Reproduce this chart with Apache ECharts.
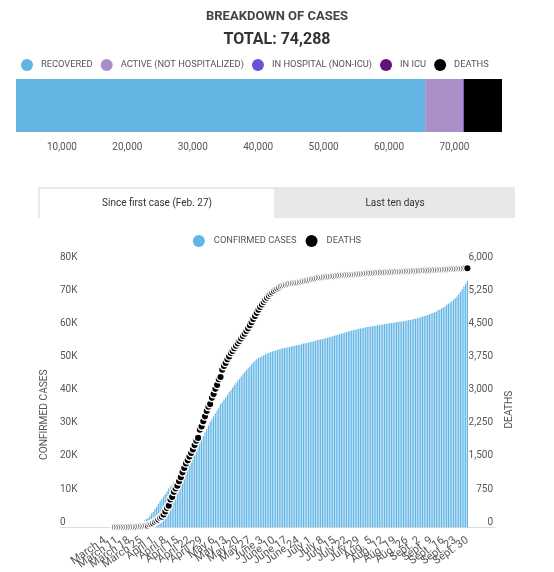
<!DOCTYPE html>
<html>
<head>
<meta charset="utf-8">
<script src="https://cdn.jsdelivr.net/npm/echarts@6/dist/echarts.min.js"></script>
<style>
html,body{margin:0;padding:0;background:#fff;}
#chart{width:554px;height:572px;}
</style>
</head>
<body>
<div id="chart"></div>
<script>
// ---------- DATA ----------
const breakdownNames = ['RECOVERED', 'ACTIVE (NOT HOSPITALIZED)', 'IN HOSPITAL (NON-ICU)', 'IN ICU', 'DEATHS'];
const breakdownValues = [62550, 5700, 170, 35, 5833];
const breakdownTicks = [10000, 20000, 30000, 40000, 50000, 60000, 70000];

// daily cumulative confirmed cases, Feb. 27 (index 0) to Sept. 30 (index 216)
const casesValues = [
  1,1,1,1,1,1,1,2,2,2,
  3,4,4,8,13,17,24,39,50,74,
  94,121,139,181,221,628,1013,1339,1629,2021,
  2498,2840,3430,4162,4611,5518,6101,6997,7944,8580,
  9340,10031,10912,11677,12292,12846,13557,14248,14860,15857,
  16798,17521,17950,19319,20126,20965,21838,22616,23267,24107,
  24982,25757,26594,27538,28648,29656,30686,31865,32623,33417,
  34327,35238,36150,37133,37721,38469,39225,39948,40724,41420,
  42183,42920,43627,44197,44775,45495,46141,46838,47411,47984,
  48598,49139,49702,50232,50651,51059,51354,51593,51884,52143,
  52398,52624,52849,53047,53185,53341,53485,53666,53824,53952,
  54054,54146,54263,54383,54550,54674,54766,54835,54937,55079,
  55198,55390,55524,55593,55682,55864,55937,56079,56216,56407,
  56521,56621,56730,56859,57001,57142,57300,57466,57616,57796,
  57938,58080,58243,58414,58545,58728,58880,59073,59203,59312,
  59458,59599,59699,59845,59945,60056,60162,60262,60367,60456,
  60542,60616,60718,60813,60917,61004,61085,61162,61254,61355,
  61440,61523,61613,61680,61741,61815,61901,61992,62075,62150,
  62246,62344,62437,62561,62667,62783,62900,63013,63161,63313,
  63511,63713,63876,64056,64256,64448,64650,64860,65110,65417,
  65706,66000,66292,66578,67080,67387,67787,68128,68617,69088,
  69570,70307,70994,71812,72651,73450,74288
];

// cumulative deaths, starting at day index 12 (March 10)
const deathsStart = 12;
const deathsValues = [
  0,0,0,0,0,1,1,1,
  4,4,5,6,8,10,18,22,25,31,
  33,36,61,75,94,121,150,175,216,241,
  289,360,435,487,630,688,802,877,939,1041,
  1134,1243,1340,1446,1515,1599,1682,1761,1859,1958,
  2022,2205,2280,2398,2510,2631,2725,2786,2928,3013,
  3131,3220,3351,3401,3562,3647,3718,3800,3865,3940,
  3990,4050,4105,4160,4215,4270,4325,4380,4440,4500,
  4570,4640,4710,4780,4850,4920,4985,5040,5095,5145,
  5190,5235,5275,5310,5345,5375,5400,5425,5448,5462,
  5475,5485,5495,5505,5512,5518,5524,5530,5538,5545,
  5555,5565,5573,5582,5590,5600,5608,5616,5624,5632,
  5641,5647,5650,5657,5661,5664,5669,5673,5675,5680,
  5684,5687,5691,5694,5698,5700,5705,5707,5711,5713,
  5717,5719,5723,5725,5729,5731,5734,5738,5740,5743,
  5745,5748,5750,5752,5755,5756,5759,5760,5762,5765,
  5766,5768,5771,5772,5774,5777,5778,5780,5781,5784,
  5785,5787,5788,5791,5792,5794,5795,5798,5799,5801,
  5803,5805,5806,5809,5810,5812,5814,5817,5818,5820,
  5822,5825,5826,5828,5830,5833,5834,5836,5839,5840,
  5842,5845,5847,5850,5853,5856,5858
];

// weekly tick labels (first at day index 6 = March 4)
const tickStart = 6;
const tickLabels = ['March 4','March 11','March 18','March 25','April 1','April 8','April 15','April 22','April 29',
  'May 6','May 13','May 20','May 27','June 3','June 10','June 17','June 24','July 1','July 8','July 15','July 22','July 29',
  'Aug. 5','Aug. 12','Aug. 19','Aug. 26','Sept. 2','Sept. 9','Sept. 16','Sept. 23','Sept. 30'];

// ---------- STYLES ----------
const breakdownColors = ['#62b5e2', '#a98fc8', '#6a52d8', '#62107a', '#000000'];
const CASE_COLOR = '#62b5e5';
const FONT = 'Roboto';
const TXT = '#555';

function fmtNum(v){ return String(v).replace(/\B(?=(\d{3})+(?!\d))/g, ','); }

const total = breakdownValues.reduce((a,b)=>a+b,0);
const X_MIN = -20, X_MAX = 232;
const tickValues = tickLabels.map((_, i) => tickStart + 7*i);
// axis ends carry empty labels so that ECharts' min/max label pruning never removes a real date
const labelValues = [X_MIN].concat(tickValues, [X_MAX]);

const casesPairs = casesValues.map((v,i)=>[i, v]);
const deathsPairs = deathsValues.map((v,i)=>[deathsStart + i, v]);

const chart = echarts.init(document.getElementById('chart'));

const topSeries = breakdownNames.map((n, i) => ({
  name: n, type: 'bar', stack: 'total', xAxisIndex: 0, yAxisIndex: 0,
  barWidth: 53, data: [breakdownValues[i]],
  itemStyle: { color: breakdownColors[i] }, silent: true
}));

function dateLabel(v){
  const k = (v - tickStart) / 7;
  return (Number.isInteger(k) && tickLabels[k]) ? tickLabels[k] : '';
}

chart.setOption({
  animation: false,
  textStyle: { fontFamily: FONT },
  title: [
    { text: 'BREAKDOWN OF CASES', left: 'center', top: 10, padding: 0,
      textStyle: { fontFamily: FONT, fontSize: 13, fontWeight: 'bold', color: '#444' } },
    { text: 'TOTAL: ' + fmtNum(total), left: 'center', top: 32, padding: 0,
      textStyle: { fontFamily: FONT, fontSize: 16, fontWeight: 'bold', color: '#333' } }
  ],
  legend: [
    { data: breakdownNames, left: 21, top: 59, padding: 0, icon: 'circle', itemWidth: 12, itemHeight: 12, itemGap: 8,
      textStyle: { fontFamily: FONT, fontSize: 9.3, color: TXT, padding: [0,0,0,3] }, selectedMode: false },
    { data: ['CONFIRMED CASES', 'DEATHS'], left: 'center', top: 235, padding: 0, icon: 'circle', itemWidth: 12, itemHeight: 12, itemGap: 9,
      itemStyle: { borderWidth: 0 },
      textStyle: { fontFamily: FONT, fontSize: 9.3, color: TXT, padding: [0,0,0,4] }, selectedMode: false }
  ],
  graphic: [
    { type: 'rect', shape: { x: 38, y: 187, width: 477, height: 31 }, style: { fill: '#e8e8e8' }, silent: true },
    { type: 'rect', shape: { x: 40, y: 189, width: 234, height: 29 }, style: { fill: '#ffffff' }, silent: true },
    { type: 'text', x: 157, y: 203, style: { text: 'Since first case (Feb. 27)', font: '10px Roboto', fill: '#333', align: 'center', verticalAlign: 'middle' }, silent: true },
    { type: 'text', x: 395, y: 203, style: { text: 'Last ten days', font: '10px Roboto', fill: '#333', align: 'center', verticalAlign: 'middle' }, silent: true }
  ],
  grid: [
    { left: 16, right: 52, top: 79, height: 53 },
    { left: 60, right: 59, top: 262, bottom: 43 }
  ],
  xAxis: [
    { type: 'value', gridIndex: 0, min: 0, max: total,
      axisLine: { show: false }, axisTick: { show: false }, splitLine: { show: false },
      axisLabel: { customValues: breakdownTicks, formatter: v => fmtNum(v), fontFamily: FONT, fontSize: 10, color: TXT,
        margin: 10, padding: [0, 39, 0, 0] } },
    { type: 'value', gridIndex: 1, min: X_MIN, max: X_MAX,
      axisLine: { show: true, lineStyle: { color: '#dddddd' } }, axisTick: { show: false }, splitLine: { show: false },
      axisLabel: { customValues: labelValues, formatter: dateLabel,
        rotate: 35, margin: 12, fontFamily: FONT, fontSize: 11, color: TXT, hideOverlap: false,
        showMinLabel: false, showMaxLabel: false } }
  ],
  yAxis: [
    { type: 'category', gridIndex: 0, data: ['Total'], show: false },
    { type: 'value', gridIndex: 1, min: 0, max: 80000, interval: 10000, position: 'left',
      name: 'CONFIRMED CASES', nameLocation: 'middle', nameGap: 10,
      nameTextStyle: { fontFamily: FONT, fontSize: 10.2, color: TXT, padding: [0, 40, 0, 0] },
      axisLine: { show: false }, axisTick: { show: false }, splitLine: { show: false },
      axisLabel: { inside: true, margin: 0, verticalAlign: 'bottom', fontFamily: FONT, fontSize: 10, color: TXT,
        formatter: v => v === 0 ? '0' : (v / 1000) + 'K' } },
    { type: 'value', gridIndex: 1, min: 0, max: 6000, interval: 750, position: 'right',
      name: 'DEATHS', nameLocation: 'middle', nameGap: 9, nameRotate: 90,
      nameTextStyle: { fontFamily: FONT, fontSize: 10.2, color: TXT, padding: [0, 30, 0, 0] },
      axisLine: { show: false }, axisTick: { show: false }, splitLine: { show: false },
      axisLabel: { inside: true, margin: 2, verticalAlign: 'bottom', fontFamily: FONT, fontSize: 10, color: TXT,
        formatter: v => fmtNum(v) } }
  ],
  series: topSeries.concat([
    { name: 'CONFIRMED CASES', type: 'bar', xAxisIndex: 1, yAxisIndex: 1, barWidth: 1.2,
      data: casesPairs, itemStyle: { color: CASE_COLOR }, silent: true, large: false },
    { name: 'DEATHS', type: 'scatter', xAxisIndex: 1, yAxisIndex: 2, symbol: 'circle', symbolSize: 7.5,
      data: deathsPairs, itemStyle: { color: '#000', borderColor: '#fff', borderWidth: 1.4, opacity: 1 }, silent: true, z: 5 }
  ])
});
</script>
</body>
</html>
